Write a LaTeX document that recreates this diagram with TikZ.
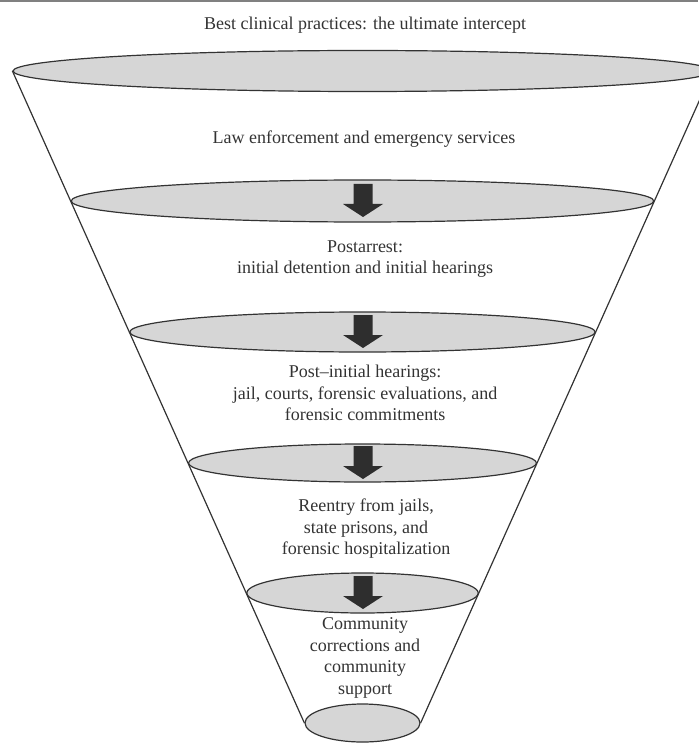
\documentclass[tikz,border=0pt]{standalone}
\usepackage{fontspec}
\setmainfont{Liberation Serif}
\usetikzlibrary{shapes.geometric}
\definecolor{disc}{HTML}{D6D6D6}
\definecolor{arr}{HTML}{2E2E2E}
\definecolor{ink}{HTML}{333333}
\tikzset{
  disc/.style={ellipse, draw=ink, line width=1.2pt, fill=disc, inner sep=0pt},
  lbl/.style={align=center, font=\fontsize{18}{21.5}\selectfont, text=black!80, inner sep=0pt},
  funnel/.style={draw=ink, line width=1.2pt},
  downarrow/.pic={\fill[arr] (-9.5,-17) -- (9.5,-17) -- (9.5,3) -- (20,3) -- (0,16) -- (-20,3) -- (-9.5,3) -- cycle;}
}
\begin{document}
\begin{tikzpicture}[x=1pt,y=-1pt]
\useasboundingbox (0,0) rectangle (698,743);
\draw[gray, line width=2pt] (0,1) -- (698,1);
\node[disc, minimum width=699, minimum height=41] (e1) at (362.5,71) {};
\node[disc, minimum width=582.6, minimum height=42] (e2) at (362.5,201) {};
\node[disc, minimum width=465.2, minimum height=40] (e3) at (362.5,332) {};
\node[disc, minimum width=347.8, minimum height=38] (e4) at (362.5,463) {};
\node[disc, minimum width=231.4, minimum height=40] (e5) at (362.5,593) {};
\node[disc, minimum width=115, minimum height=38] (e6) at (362.5,723) {};
\draw[funnel] (e1.west) -- (e6.west);
\draw[funnel] (e1.east) -- (e6.east);
\pic at (363,201) {downarrow};
\pic at (363,332) {downarrow};
\pic at (363,463) {downarrow};
\pic at (363,593) {downarrow};
\node[lbl] (t0) at (365,25) {Best clinical practices: the ultimate intercept};
\node[lbl] (t1) at (364,139) {Law enforcement and emergency services};
\node[lbl] (t2) at (365,259) {Postarrest:\\initial detention and initial hearings};
\node[lbl] (t3) at (365,393) {Post–initial hearings:\\jail, courts, forensic evaluations, and\\forensic commitments};
\node[lbl] (t4) at (366,529) {Reentry from jails,\\state prisons, and\\forensic hospitalization};
\node[lbl] (t5) at (365,658) {Community\\corrections and\\community\\support};
\end{tikzpicture}
\end{document}
